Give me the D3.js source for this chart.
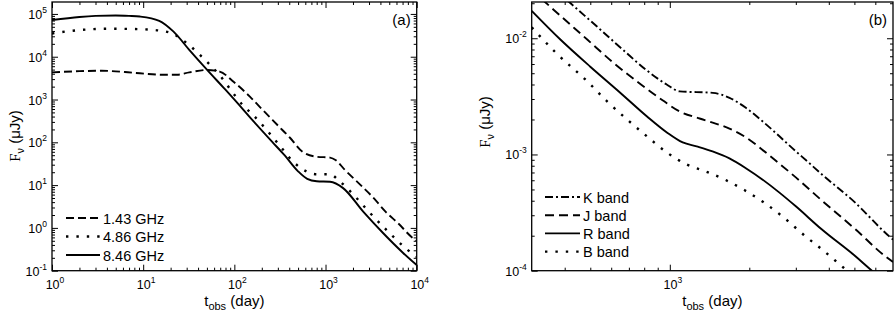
<!DOCTYPE html>
<html>
<head>
<meta charset="utf-8">
<script src="https://cdn.jsdelivr.net/npm/d3@7"></script>
<style>
  body { margin: 0; background: #fff; }
  svg { display: block; }
  .axis path { display: none; }
  .axis line { stroke: #000; stroke-width: 1; }
  text { font-family: "Liberation Sans", Arial, sans-serif; fill: #000; }
</style>
</head>
<body>
<svg id="chart"></svg>
<script>
// panel (a): radio light curves, [t_obs (day), F (uJy)]
const radio143 = [[1, 4300], [2, 4600], [3.5, 4700], [6.3, 4400], [9.2, 4100], [16, 3800], [23.4, 3800],
  [32, 4300], [50, 4900], [69, 4500], [98, 2600], [148, 1170], [204, 575], [263, 330], [295, 257],
  [410, 126], [560, 60], [800, 46], [1120, 44], [1300, 38], [1620, 23], [2430, 10], [3310, 5.2],
  [4470, 2.5], [6380, 1.23], [8900, 0.6], [10000, 0.5]];
const radio486 = [[1, 35000], [2, 42000], [4, 45000], [9.2, 44000], [15, 41000], [20.4, 35500],
  [32, 18600], [42, 11000], [54, 6500], [69, 3700], [100, 1290], [126, 710], [158, 450], [316, 83],
  [437, 36], [646, 20], [794, 18], [1120, 18], [1380, 13.2], [1780, 7.9], [2290, 4.5], [2880, 2.6],
  [4680, 0.89], [7760, 0.32], [10000, 0.21]];
const radio846 = [[1, 72000], [2, 85000], [3, 90000], [5, 92000], [7, 90000], [9.2, 87000], [15, 69000],
  [21.4, 39000], [32, 14500], [50, 5000], [76, 1900], [98, 1050], [158, 330], [263, 100], [355, 50],
  [500, 21], [630, 14], [800, 12.3], [1120, 12], [1560, 8.5], [2590, 2.4], [4300, 0.75], [7100, 0.26],
  [10000, 0.135]];
const radioNames = ["1.43 GHz", "4.86 GHz", "8.46 GHz"];
const radioXTicks = [1, 10, 100, 1000, 10000];
const radioYTicks = [0.1, 1, 10, 100, 1000, 10000, 100000];

// panel (b): optical / IR bands, [t_obs (day), F (uJy)]
const bandK = [[300, 0.040], [421, 0.0200], [530, 0.0126], [667, 0.0079], [817, 0.0053], [973, 0.0040],
  [1090, 0.00349], [1455, 0.00339], [1683, 0.00307], [1941, 0.00252], [2244, 0.00193], [2594, 0.00144],
  [2992, 0.00107], [3311, 0.000875], [3767, 0.000673], [5035, 0.000385], [6531, 0.000213], [7000, 0.000185]];
const bandJ = [[300, 0.026], [363, 0.0176], [488, 0.0097], [611, 0.00616], [771, 0.00406], [942, 0.00291],
  [1091, 0.00234], [1297, 0.00204], [1453, 0.00188], [1682, 0.00167], [1945, 0.0014], [2240, 0.0011],
  [2594, 0.000837], [3000, 0.000635], [3758, 0.000403], [5045, 0.000227], [6546, 0.000133], [7000, 0.000119]];
const bandR = [[300, 0.0172], [386, 0.0097], [500, 0.00569], [649, 0.0034], [820, 0.00212], [975, 0.001545],
  [1119, 0.001268], [1264, 0.001172], [1452, 0.001061], [1682, 0.000924], [1947, 0.000758], [2240, 0.00061],
  [2594, 0.000472], [3000, 0.000358], [3758, 0.000227], [5045, 0.000133], [5740, 0.000103], [7000, 0.000071]];
const bandB = [[300, 0.0124], [370, 0.00752], [488, 0.00424], [580, 0.00285], [689, 0.0020], [820, 0.00143],
  [975, 0.00104], [1159, 0.00082], [1355, 0.00072], [1611, 0.00061], [1915, 0.000494], [2276, 0.000385],
  [2705, 0.000286], [3218, 0.000203], [3828, 0.000148], [4550, 0.000106], [5410, 0.0000766]];
const bandNames = ["K band", "J band", "R band", "B band"];
const bandXTicks = [1000];
const bandYTicks = [0.0001, 0.001, 0.01];

const svg = d3.select("#chart").attr("width", 895).attr("height", 315);

// log minor ticks 2..9 inside a domain
function minors(domain) {
  const out = [];
  const lo = Math.floor(Math.log10(domain[0])), hi = Math.ceil(Math.log10(domain[1]));
  for (let e = lo; e <= hi; e++) {
    for (let m = 2; m <= 9; m++) {
      const v = m * Math.pow(10, e);
      if (v > domain[0] * 1.0001 && v < domain[1] * 0.9999) out.push(v);
    }
  }
  return out;
}

function powLabel(sel, v) {
  const e = Math.round(Math.log10(v));
  sel.append("tspan").text("10");
  sel.append("tspan").attr("dy", -6).style("font-size", "8.5px").text(e);
}

function panel(p) {
  const x = d3.scaleLog().domain(p.xDomain).range([p.left, p.right]);
  const y = d3.scaleLog().domain(p.yDomain).range([p.bottom, p.top]);
  const g = svg.append("g");

  g.append("clipPath").attr("id", p.id + "-clip")
    .append("rect")
    .attr("x", p.left).attr("y", p.top)
    .attr("width", p.right - p.left).attr("height", p.bottom - p.top);

  // ticks, all pointing inward
  const axes = [
    [d3.axisBottom, x, p.xTicks, 6, "translate(0," + p.bottom + ")"],
    [d3.axisBottom, x, minors(p.xDomain), 3, "translate(0," + p.bottom + ")"],
    [d3.axisTop, x, p.xTicks, 6, "translate(0," + p.top + ")"],
    [d3.axisTop, x, minors(p.xDomain), 3, "translate(0," + p.top + ")"],
    [d3.axisLeft, y, p.yTicks, 6, "translate(" + p.left + ",0)"],
    [d3.axisLeft, y, minors(p.yDomain), 3, "translate(" + p.left + ",0)"],
    [d3.axisRight, y, p.yTicks, 6, "translate(" + p.right + ",0)"],
    [d3.axisRight, y, minors(p.yDomain), 3, "translate(" + p.right + ",0)"]
  ];
  axes.forEach(a => {
    g.append("g").attr("class", "axis")
      .attr("transform", a[4])
      .call(a[0](a[1]).tickValues(a[2]).tickSize(-a[3]).tickFormat(() => ""));
  });

  // tick labels
  p.xTicks.forEach(v => {
    g.append("text").attr("x", x(v) + 3).attr("y", p.bottom + 18)
      .attr("text-anchor", "middle").style("font-size", "12.5px")
      .call(powLabel, v);
  });
  p.yTicks.forEach(v => {
    g.append("text").attr("x", p.left - 5).attr("y", y(v) + 5)
      .attr("text-anchor", "end").style("font-size", "12.5px")
      .call(powLabel, v);
  });

  // curves
  const line = d3.line()
    .x(d => x(d[0]))
    .y(d => y(d[1]))
    .curve(d3.curveMonotoneX);

  const lines = g.append("g").attr("clip-path", "url(#" + p.id + "-clip)");
  p.series.forEach(s => {
    lines.append("path")
      .datum(s.data)
      .attr("d", line)
      .attr("fill", "none")
      .attr("stroke", "#000")
      .attr("stroke-width", s.width)
      .attr("stroke-dasharray", s.dash);
  });

  // frame
  g.append("rect")
    .attr("x", p.left).attr("y", p.top)
    .attr("width", p.right - p.left).attr("height", p.bottom - p.top)
    .attr("fill", "none").attr("stroke", "#000").attr("stroke-width", 1.3);

  // legend
  p.series.forEach((s, i) => {
    const ly = p.legend.y + i * p.legend.step;
    g.append("line")
      .attr("x1", p.legend.x).attr("x2", p.legend.x + p.legend.len)
      .attr("y1", ly).attr("y2", ly)
      .attr("stroke", "#000").attr("stroke-width", s.width)
      .attr("stroke-dasharray", s.dash);
    g.append("text")
      .attr("x", p.legend.x + p.legend.len + 3).attr("y", ly + 5.5)
      .style("font-size", "14.5px")
      .text(s.name);
  });

  // panel tag
  g.append("text").attr("x", p.right - 6).attr("y", 25)
    .attr("text-anchor", "end").style("font-size", "15px").text(p.tag);

  // axis titles
  const xt = g.append("text")
    .attr("x", (p.left + p.right) / 2).attr("y", 306)
    .attr("text-anchor", "middle").style("font-size", "15px");
  xt.append("tspan").text("t");
  xt.append("tspan").attr("dy", 4).style("font-size", "11px").text("obs");
  xt.append("tspan").attr("dy", -4).text(" (day)");

  const yt = g.append("text")
    .attr("transform", "translate(" + p.yTitle.x + "," + p.yTitle.y + ") rotate(-90)")
    .attr("text-anchor", "middle").style("font-size", "15px");
  yt.append("tspan").style("font-family", "'Liberation Serif', 'Times New Roman', serif").text("F");
  yt.append("tspan").attr("dy", 4).style("font-size", "11px").text("\u03bd");
  yt.append("tspan").attr("dy", -4).text(" (\u03bcJy)");
}

panel({
  id: "a", tag: "(a)",
  left: 52, right: 416.7, top: 2, bottom: 270.7,
  xDomain: [1, 10000], yDomain: [0.1, 190000],
  xTicks: radioXTicks, yTicks: radioYTicks,
  series: [
    { name: radioNames[0], data: radio143, dash: "8,4", width: 1.9 },
    { name: radioNames[1], data: radio486, dash: "2.4,8", width: 2.4 },
    { name: radioNames[2], data: radio846, dash: null, width: 1.9 }
  ],
  legend: { x: 66, len: 34, y: 218, step: 18.5 },
  yTitle: { x: 20, y: 136 }
});

panel({
  id: "b", tag: "(b)",
  left: 531.7, right: 893, top: 2, bottom: 270.7,
  xDomain: [300, 7000], yDomain: [0.0001, 0.0205],
  xTicks: bandXTicks, yTicks: bandYTicks,
  series: [
    { name: bandNames[0], data: bandK, dash: "8,3,2,3", width: 1.9 },
    { name: bandNames[1], data: bandJ, dash: "9,5", width: 1.9 },
    { name: bandNames[2], data: bandR, dash: null, width: 1.9 },
    { name: bandNames[3], data: bandB, dash: "2.4,8", width: 2.4 }
  ],
  legend: { x: 545, len: 35, y: 197, step: 18.2 },
  yTitle: { x: 490, y: 122 }
});
</script>
</body>
</html>
